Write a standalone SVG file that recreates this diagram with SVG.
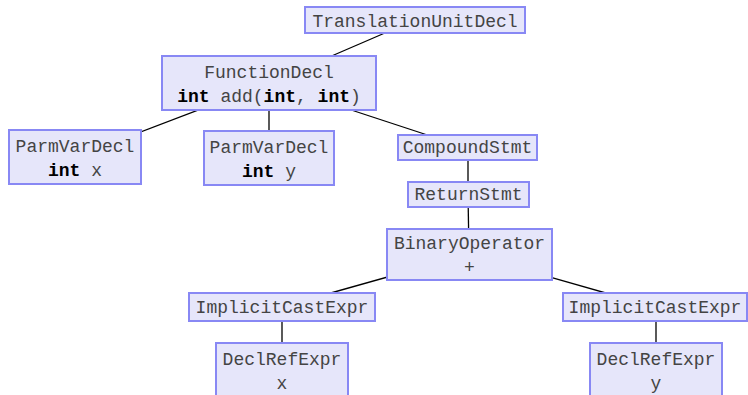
<svg xmlns="http://www.w3.org/2000/svg" width="748" height="395" viewBox="0 0 748 395">
  <style>
    .box { fill: #e6e6fa; stroke: #8888f4; stroke-width: 2; }
    .lbl { font-family: "Liberation Mono", "Courier New", monospace; font-size: 18px; fill: #444444; text-anchor: middle; }
    .kw { font-weight: bold; fill: #000000; }
    .edge { stroke: #000000; stroke-width: 1.3; fill: none; }
  </style>
  <rect width="748" height="395" fill="#ffffff"/>

  <!-- tree edges, drawn centre to centre underneath the boxes -->
  <g id="connectors">
    <line class="edge" x1="415" y1="20" x2="269" y2="83"/>
    <line class="edge" x1="269" y1="83" x2="75" y2="157"/>
    <line class="edge" x1="269" y1="83" x2="269" y2="158"/>
    <line class="edge" x1="269" y1="83" x2="467" y2="148"/>
    <line class="edge" x1="468" y1="148" x2="468" y2="194"/>
    <line class="edge" x1="468" y1="194" x2="469" y2="254"/>
    <line class="edge" x1="469" y1="254" x2="281" y2="307"/>
    <line class="edge" x1="469" y1="254" x2="655" y2="307"/>
    <line class="edge" x1="282" y1="307" x2="282" y2="370"/>
    <line class="edge" x1="656" y1="307" x2="656" y2="370"/>
  </g>

  <g id="translation-unit">
    <rect class="box" x="305" y="7" width="220" height="26"/>
    <text class="lbl" x="415" y="27">TranslationUnitDecl</text>
  </g>

  <g id="function-decl">
    <rect class="box" x="162" y="56" width="214" height="54"/>
    <text class="lbl" x="269" y="78">FunctionDecl</text>
    <text class="lbl" x="269" y="102"><tspan class="kw">int</tspan> add(<tspan class="kw">int</tspan>, <tspan class="kw">int</tspan>)</text>
  </g>

  <g id="parm-x">
    <rect class="box" x="9" y="130" width="132" height="54"/>
    <text class="lbl" x="75" y="152">ParmVarDecl</text>
    <text class="lbl" x="75" y="176"><tspan class="kw">int</tspan> x</text>
  </g>

  <g id="parm-y">
    <rect class="box" x="204" y="131" width="130" height="54"/>
    <text class="lbl" x="269" y="153">ParmVarDecl</text>
    <text class="lbl" x="269" y="177"><tspan class="kw">int</tspan> y</text>
  </g>

  <g id="compound-stmt">
    <rect class="box" x="398" y="135" width="139" height="25"/>
    <text class="lbl" x="467.5" y="153">CompoundStmt</text>
  </g>

  <g id="return-stmt">
    <rect class="box" x="408" y="182" width="121" height="25"/>
    <text class="lbl" x="468.5" y="200">ReturnStmt</text>
  </g>

  <g id="binary-operator">
    <rect class="box" x="387" y="229" width="165" height="51"/>
    <text class="lbl" x="469.5" y="249">BinaryOperator</text>
    <text class="lbl" x="469.5" y="273">+</text>
  </g>

  <g id="cast-left">
    <rect class="box" x="189" y="293" width="186" height="28"/>
    <text class="lbl" x="282" y="313">ImplicitCastExpr</text>
  </g>

  <g id="cast-right">
    <rect class="box" x="563" y="293" width="184" height="28"/>
    <text class="lbl" x="655" y="313">ImplicitCastExpr</text>
  </g>

  <g id="declref-x">
    <rect class="box" x="216" y="343" width="132" height="60"/>
    <text class="lbl" x="282" y="365">DeclRefExpr</text>
    <text class="lbl" x="282" y="389">x</text>
  </g>

  <g id="declref-y">
    <rect class="box" x="590" y="343" width="132" height="60"/>
    <text class="lbl" x="656" y="365">DeclRefExpr</text>
    <text class="lbl" x="656" y="389">y</text>
  </g>
</svg>
